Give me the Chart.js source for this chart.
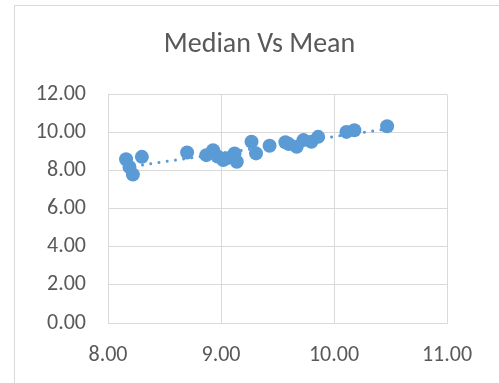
<!DOCTYPE html>
<html>
<head>
<meta charset="utf-8">
<script src="https://cdn.jsdelivr.net/npm/chart.js@4/dist/chart.umd.min.js"></script>
<style>
  html, body { margin: 0; padding: 0; background: #fff; }
  #wrap { position: relative; width: 499px; height: 383px; overflow: hidden; }
  #frame { position: absolute; left: 14px; top: 5px; width: 600px; height: 500px; border: 1px solid #d9d9d9; }
  canvas { position: absolute; left: 0; top: 0; }
</style>
</head>
<body>
<div id="wrap">
  <div id="frame"></div>
  <canvas id="scatterChart" width="499" height="383"></canvas>
</div>
<script>
// Mean (x) vs Median (y)
const meanValues = [8.16, 8.19, 8.22, 8.30, 8.70, 8.87, 8.93, 8.97, 9.02, 9.05, 9.12, 9.14, 9.27, 9.31, 9.43, 9.57, 9.60, 9.67, 9.73, 9.80, 9.86, 10.11, 10.18, 10.47];
const medianValues = [8.60, 8.20, 7.80, 8.73, 8.96, 8.82, 9.08, 8.75, 8.56, 8.65, 8.91, 8.47, 9.52, 8.91, 9.31, 9.50, 9.40, 9.26, 9.61, 9.52, 9.78, 10.04, 10.13, 10.34];
const xTicks = [8, 9, 10, 11];
const yTicks = [0, 2, 4, 6, 8, 10, 12];

const points = meanValues.map((x, i) => ({ x: x, y: medianValues[i] }));

// linear trendline (least squares) over the data range
const n = meanValues.length;
const mx = meanValues.reduce((a, b) => a + b, 0) / n;
const my = medianValues.reduce((a, b) => a + b, 0) / n;
let sxy = 0, sxx = 0;
meanValues.forEach((x, i) => {
  sxy += (x - mx) * (medianValues[i] - my);
  sxx += (x - mx) * (x - mx);
});
const slope = sxy / sxx;
const intercept = my - slope * mx;
const xMin = Math.min(...meanValues);
const xMax = Math.max(...meanValues);
const trend = [xMin, xMax].map((x) => ({ x: x, y: intercept + slope * x }));

const blue = "#5b9bd5";
const grey = "#595959";
const gridColor = "#d9d9d9";
const font = "Carlito, 'Liberation Sans', 'Open Sans', sans-serif";

// centre the title over the framed area instead of the chart box
const shiftTitle = {
  id: "shiftTitle",
  afterLayout(chart) {
    if (chart.titleBlock) {
      chart.titleBlock.left += 36;
      chart.titleBlock.right += 36;
    }
  },
};

new Chart(document.getElementById("scatterChart").getContext("2d"), {
  type: "scatter",
  data: {
    datasets: [
      {
        label: "Median",
        data: points,
        backgroundColor: blue,
        borderColor: blue,
        pointRadius: 7,
        pointHoverRadius: 7,
        borderWidth: 0,
        order: 1,
      },
      {
        label: "Trend",
        type: "line",
        data: trend,
        borderColor: blue,
        borderWidth: 3,
        borderDash: [0.01, 8.3],
        borderCapStyle: "round",
        pointRadius: 0,
        fill: false,
        order: 2,
      },
    ],
  },
  plugins: [shiftTitle],
  options: {
    responsive: false,
    animation: false,
    layout: { padding: { left: 0, right: 52, top: 0, bottom: 0 } },
    scales: {
      x: {
        type: "linear",
        min: 8,
        max: 11,
        afterBuildTicks: (axis) => { axis.ticks = xTicks.map((v) => ({ value: v })); },
        afterFit: (axis) => { axis.height = 60; },
        grid: { color: gridColor, lineWidth: 1, drawTicks: false },
        border: { color: gridColor },
        ticks: {
          padding: 19,
          color: grey,
          font: { family: font, size: 22 },
          callback: (v) => Number(v).toFixed(2),
        },
      },
      y: {
        min: 0,
        max: 12,
        afterBuildTicks: (axis) => { axis.ticks = yTicks.map((v) => ({ value: v })); },
        afterFit: (axis) => { axis.width = 108; },
        grid: { color: gridColor, lineWidth: 1, drawTicks: false },
        border: { display: false },
        ticks: {
          padding: 22,
          color: grey,
          font: { family: font, size: 22 },
          callback: (v) => Number(v).toFixed(2),
        },
      },
    },
    plugins: {
      legend: { display: false },
      tooltip: { enabled: false },
      title: {
        display: true,
        text: "Median Vs Mean",
        color: grey,
        font: { family: font, size: 28, weight: "normal" },
        padding: { top: 28, bottom: 33 },
      },
    },
  },
});
</script>
</body>
</html>
